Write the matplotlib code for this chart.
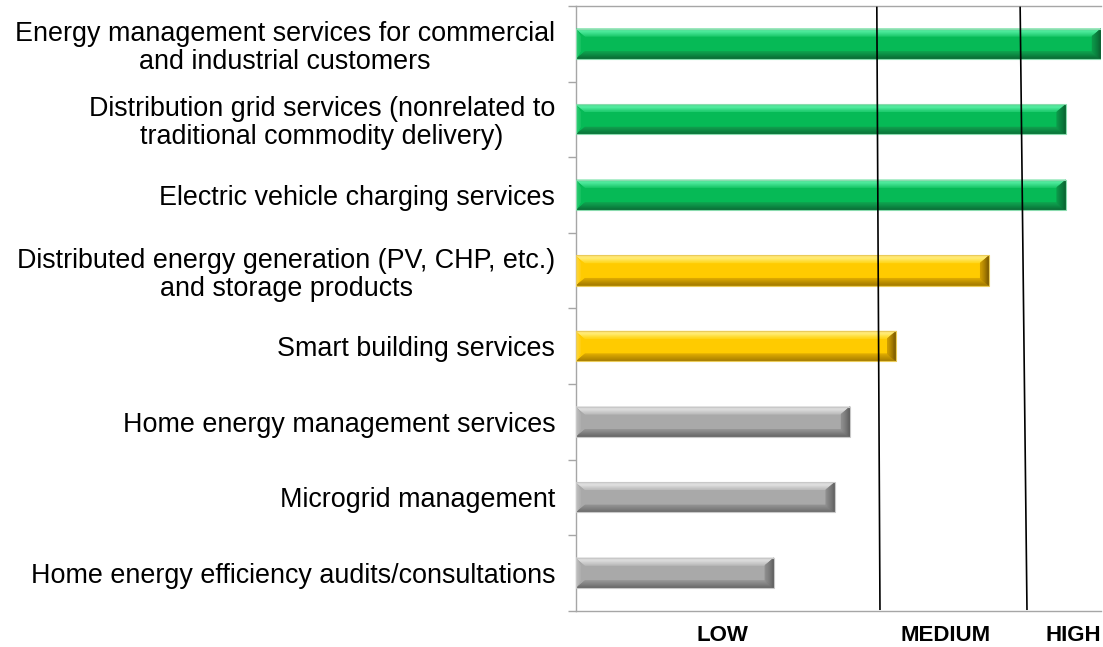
import matplotlib
matplotlib.use("Agg")
import matplotlib.pyplot as plt
from matplotlib.patches import Polygon
from matplotlib.colors import to_rgb
import numpy as np

plt.rcParams['font.family'] = ['Liberation Sans', 'DejaVu Sans']

categories = [
    "Energy management services for commercial\nand industrial customers",
    "Distribution grid services (nonrelated to\ntraditional commodity delivery)",
    "Electric vehicle charging services",
    "Distributed energy generation (PV, CHP, etc.)\nand storage products",
    "Smart building services",
    "Home energy management services",
    "Microgrid management",
    "Home energy efficiency audits/consultations",
]
values = [100.0, 93.3, 93.3, 78.7, 61.0, 52.2, 49.3, 37.7]
levels = ["high", "high", "high", "medium", "medium", "low", "low", "low"]

level_labels = ["LOW", "MEDIUM", "HIGH"]
level_label_pos = [27.8, 70.3, 94.7]
# threshold lines (top x, bottom x) - slightly slanted in original
medium_line = [57.3, 57.9]
high_line = [84.6, 85.9]

palette = {
    "high": dict(body="#06BA56", top=[(0, "#5DDB95"), (0.4, "#55F0A4"), (1, "#20CC70")],
                 bottom=[(0, "#0A6633"), (1, "#10A04E")], right=[(0, "#0A5A2D"), (1, "#0C9A4A")],
                 left=[(0, "#30CF75"), (1, "#18C263")], edge="#8ADBAE"),
    "medium": dict(body="#FFCB00", top=[(0, "#FFE27A"), (0.4, "#FFEF7A"), (1, "#FFD61A")],
                   bottom=[(0, "#987100"), (1, "#DDAA00")], right=[(0, "#765600"), (1, "#CC9A00")],
                   left=[(0, "#FFD94A"), (1, "#FFCF15")], edge="#EACB5A"),
    "low": dict(body="#A9A9A9", top=[(0, "#D4D4D4"), (0.4, "#E2E2E2"), (1, "#BDBDBD")],
                bottom=[(0, "#636363"), (1, "#939393")], right=[(0, "#5A5A5A"), (1, "#909090")],
                left=[(0, "#C2C2C2"), (1, "#B0B0B0")], edge="#C8C8C8"),
}


def interp(stops, t):
    for (t0, c0), (t1, c1) in zip(stops[:-1], stops[1:]):
        if t <= t1:
            f = 0 if t1 == t0 else (t - t0) / (t1 - t0)
            a, b = np.array(to_rgb(c0)), np.array(to_rgb(c1))
            return tuple(a + (b - a) * f)
    return to_rgb(stops[-1][1])


W, H, DPI = 1103, 647, 100
fig = plt.figure(figsize=(W / DPI, H / DPI), dpi=DPI)
ax_left, ax_right, ax_top, ax_bot = 576, 1101, 6, 610.7
ax = fig.add_axes([ax_left / W, 1 - ax_bot / H, (ax_right - ax_left) / W, (ax_bot - ax_top) / H])

y = np.arange(len(categories))
bar_h = 0.4
bars = ax.barh(y, values, height=bar_h, color=[palette[l]["body"] for l in levels],
               edgecolor="none", zorder=2)

ax.set_xlim(0, 100)
ax.set_ylim(len(categories) - 0.5, -0.5)

# bevel facets, derived from each bar's own geometry
px_x = 100 / (ax_right - ax_left)
px_y = len(categories) / (ax_bot - ax_top)
bx = 9 * px_x
by = 7.5 * px_y
N = 8


def facet(outer_a, outer_b, inner_a, inner_b, stops, z=3):
    oa, ob, ia, ib = map(np.array, (outer_a, outer_b, inner_a, inner_b))
    for k in range(N):
        t0, t1 = k / N, (k + 1) / N
        p = [oa + (ia - oa) * t0, ob + (ib - ob) * t0, ob + (ib - ob) * t1, oa + (ia - oa) * t1]
        col = interp(stops, (t0 + t1) / 2)
        ax.add_patch(Polygon(p, closed=True, facecolor=col, edgecolor=col, linewidth=0.3, zorder=z))


for b, lev in zip(bars, levels):
    c = palette[lev]
    x0, x1 = b.get_x(), b.get_x() + b.get_width()
    yt, yb = b.get_y(), b.get_y() + b.get_height()   # yt is visually top (inverted axis)
    facet((x0, yt), (x1, yt), (x0 + bx, yt + by), (x1 - bx, yt + by), c["top"])
    facet((x0, yb), (x1, yb), (x0 + bx, yb - by), (x1 - bx, yb - by), c["bottom"])
    facet((x1, yt), (x1, yb), (x1 - bx, yt + by), (x1 - bx, yb - by), c["right"], z=3.2)
    facet((x0, yt), (x0, yb), (x0 + bx * 0.5, yt + by), (x0 + bx * 0.5, yb - by), c["left"], z=3.2)
    ax.add_patch(plt.Rectangle((x0, yt), x1 - x0, yb - yt, facecolor="none",
                               edgecolor=c["edge"], linewidth=0.8, zorder=4))

# threshold lines
y0, y1 = -0.48, len(categories) - 0.52
ax.plot(medium_line, [y0, y1], color="black", linewidth=1.2, zorder=5, clip_on=False)
ax.plot(high_line, [y0, y1], color="black", linewidth=1.2, zorder=5, clip_on=False)

# axes styling
spine_col = "#A6A6A6"
for s in ["left", "top", "bottom"]:
    ax.spines[s].set_color(spine_col)
    ax.spines[s].set_linewidth(1.0)
ax.spines["right"].set_visible(False)

ax.set_yticks(y)
ax.set_yticklabels(categories, fontsize=19.4, multialignment="center", linespacing=1.1)
ax.tick_params(axis="y", length=0, pad=15)
ax.set_yticks(np.arange(-0.5, len(categories)), minor=True)
ax.tick_params(axis="y", which="minor", length=8 * 72 / DPI, color=spine_col, width=1.0)

ax.set_xticks(level_label_pos)
ax.set_xticklabels(level_labels, fontsize=16, fontweight="bold")
ax.tick_params(axis="x", length=0, pad=10)

fig.savefig("out.png", dpi=DPI)
